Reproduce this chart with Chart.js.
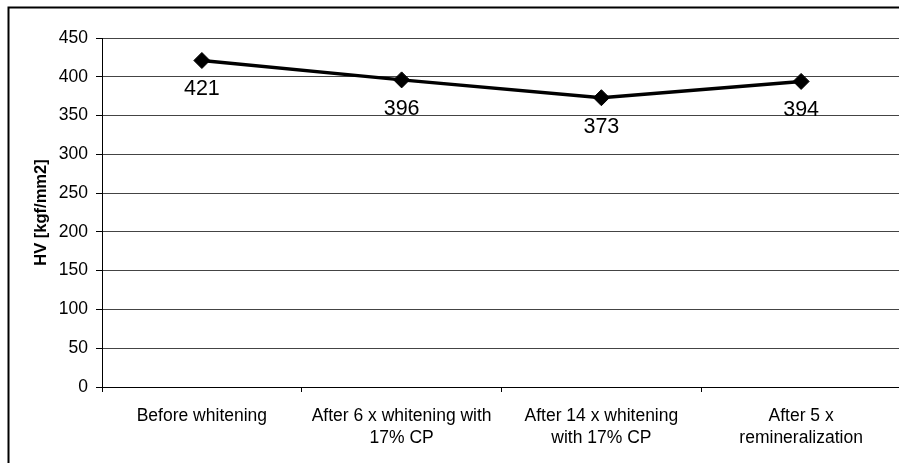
<!doctype html>
<html lang="en">
<head>
<meta charset="utf-8">
<title>HV chart</title>
<script src="https://cdn.jsdelivr.net/npm/chart.js"></script>
<style>
  html, body { margin: 0; padding: 0; background: #fff; overflow: hidden; }
  #chart { display: block; }
</style>
</head>
<body>
<canvas id="chart" width="910" height="480"></canvas>
<script>
  const categories = [
    ['Before whitening'],
    ['After 6 x whitening with', '17% CP'],
    ['After 14 x whitening', 'with 17% CP'],
    ['After 5 x', 'remineralization']
  ];
  const hardness = [421, 396, 373, 394];
  const yTicks = [0, 50, 100, 150, 200, 250, 300, 350, 400, 450];

  Chart.defaults.font.family = '"Liberation Sans", Arial, sans-serif';
  Chart.defaults.color = '#000';

  // outer frame of the chart box (cropped on the right and bottom)
  const frame = {
    id: 'frame',
    beforeDraw(chart) {
      const ctx = chart.ctx;
      ctx.save();
      ctx.fillStyle = '#fff';
      ctx.fillRect(0, 0, chart.width, chart.height);
      ctx.strokeStyle = '#000';
      ctx.lineWidth = 2;
      ctx.strokeRect(8.5, 7.5, chart.width + 50, chart.height + 50);
      ctx.restore();
    }
  };

  // value under each point
  const valueLabels = {
    id: 'valueLabels',
    afterDatasetsDraw(chart) {
      const ctx = chart.ctx;
      const meta = chart.getDatasetMeta(0);
      ctx.save();
      ctx.font = '21.5px "Liberation Sans", Arial, sans-serif';
      ctx.fillStyle = '#000';
      ctx.textAlign = 'center';
      ctx.textBaseline = 'middle';
      meta.data.forEach((pt, i) => {
        ctx.fillText(String(hardness[i]), pt.x, pt.y + 29);
      });
      ctx.restore();
    }
  };

  new Chart(document.getElementById('chart'), {
    type: 'line',
    data: {
      labels: categories,
      datasets: [{
        data: hardness,
        borderColor: '#000',
        borderWidth: 3.5,
        pointStyle: 'rectRot',
        pointRadius: 8,
        pointBackgroundColor: '#000',
        pointBorderColor: '#000',
        pointBorderWidth: 1,
        tension: 0,
        fill: false
      }]
    },
    options: {
      responsive: false,
      animation: false,
      layout: { padding: { top: 38, right: 8, bottom: 0, left: 0 } },
      plugins: {
        legend: { display: false },
        tooltip: { enabled: false }
      },
      scales: {
        x: {
          offset: true,
          grid: {
            offset: true,
            drawOnChartArea: false,
            drawTicks: true,
            tickLength: 5,
            tickColor: '#000'
          },
          border: { color: '#000', width: 1 },
          ticks: {
            font: { size: 17.5, lineHeight: 1.25 },
            color: '#000',
            padding: 13,
            maxRotation: 0,
            autoSkip: false
          },
          afterFit(scale) { scale.height = 93; }
        },
        y: {
          min: 0,
          max: 450,
          afterBuildTicks(scale) {
            scale.ticks = yTicks.map(v => ({ value: v }));
          },
          grid: {
            color: '#444',
            lineWidth: 1,
            drawTicks: true,
            tickLength: 6,
            tickColor: '#000'
          },
          border: { color: '#000', width: 1 },
          ticks: {
            font: { size: 17.5 },
            color: '#000',
            padding: 8
          },
          title: {
            display: true,
            text: 'HV [kgf/mm2]',
            font: { size: 16.5, weight: 'bold' },
            color: '#000',
            padding: { top: 32, bottom: 0 }
          },
          afterFit(scale) { scale.width = 102; }
        }
      }
    },
    plugins: [frame, valueLabels]
  });
</script>
</body>
</html>
